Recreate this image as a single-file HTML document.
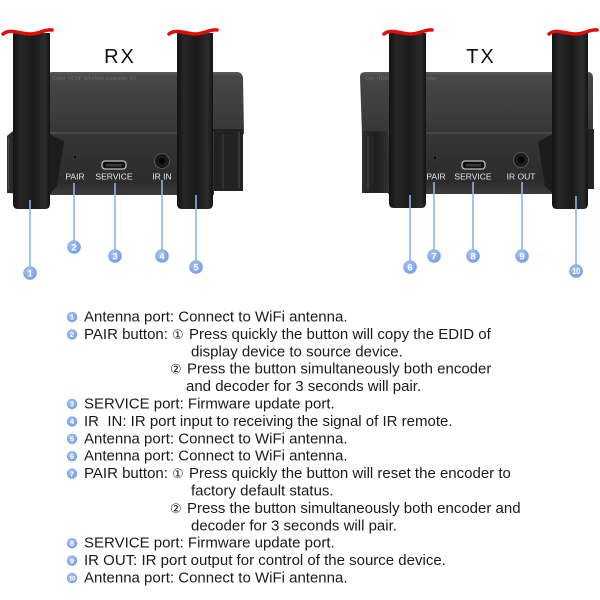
<!DOCTYPE html>
<html><head><meta charset="utf-8">
<style>
html,body{margin:0;padding:0;background:#fff;}
svg{display:block;}
</style></head>
<body>
<svg width="600" height="600" viewBox="0 0 600 600" xmlns="http://www.w3.org/2000/svg" font-family="'Liberation Sans', Arial, 'DejaVu Sans', sans-serif">
<defs>
  <linearGradient id="topf" x1="0" y1="0" x2="0" y2="1">
    <stop offset="0" stop-color="#5a5a5a"/>
    <stop offset="0.07" stop-color="#474747"/>
    <stop offset="0.6" stop-color="#3e3e3e"/>
    <stop offset="1" stop-color="#363636"/>
  </linearGradient>
  <linearGradient id="front" x1="0" y1="0" x2="0" y2="1">
    <stop offset="0" stop-color="#505050"/>
    <stop offset="0.05" stop-color="#353535"/>
    <stop offset="0.8" stop-color="#2c2c2c"/>
    <stop offset="1" stop-color="#3c3c3c"/>
  </linearGradient>
  <linearGradient id="ant" x1="0" y1="0" x2="1" y2="0">
    <stop offset="0" stop-color="#121212"/>
    <stop offset="0.2" stop-color="#272727"/>
    <stop offset="0.55" stop-color="#1a1a1a"/>
    <stop offset="0.85" stop-color="#2c2c2c"/>
    <stop offset="1" stop-color="#141414"/>
  </linearGradient>
  <linearGradient id="side" x1="0" y1="0" x2="1" y2="0">
    <stop offset="0" stop-color="#2e2e2e"/>
    <stop offset="0.5" stop-color="#1f1f1f"/>
    <stop offset="1" stop-color="#333"/>
  </linearGradient>
  <radialGradient id="bub" cx="0.4" cy="0.35" r="0.7">
    <stop offset="0" stop-color="#a9c4f3"/>
    <stop offset="1" stop-color="#6f9ae2"/>
  </radialGradient>
</defs>

<rect width="600" height="600" fill="#fff"/>

<!-- ============ RX DEVICE ============ -->
<path d="M47,77 Q47,72 52,72 L237,72 Q242,72 243,78 L244,134 L45,134 Z" fill="url(#topf)"/>
<text x="52" y="80" font-size="5.5" fill="#6a6a6a">Cable   HDMI Wireless Extender Kit</text>
<path d="M7,136 L13,131 L50,131 L50,195 L7,193 Z" fill="url(#side)"/>
<line x1="8.5" y1="137" x2="8.5" y2="190" stroke="#4a4a4a" stroke-width="1"/>
<rect x="210" y="129" width="33" height="62" fill="#222"/>
<line x1="223" y1="134" x2="223" y2="188" stroke="#3a3a3a" stroke-width="1.2"/>
<line x1="239" y1="132" x2="239" y2="188" stroke="#464646" stroke-width="1.2"/>
<rect x="48" y="132" width="166" height="63" fill="url(#front)"/>
<polygon points="49,134 64,141 57,186 49,195" fill="#1c1c1c"/>
<circle cx="75" cy="157" r="2" fill="#0e0e0e" stroke="#555" stroke-width="0.6"/>
<rect x="102" y="161" width="24" height="8" rx="3" fill="#111" stroke="#bdbdbd" stroke-width="1.3"/>
<rect x="106" y="164" width="16" height="2.5" fill="#3a3a3a"/>
<circle cx="162" cy="161" r="7.5" fill="#1b1b1b" stroke="#555" stroke-width="1"/>
<circle cx="162" cy="161" r="3.2" fill="#050505"/>
<g font-size="8.5" fill="#e6e6e6" text-anchor="middle">
  <text x="75" y="179.5">PAIR</text>
  <text x="114" y="179.5">SERVICE</text>
  <text x="162" y="179.5">IR IN</text>
</g>
<text x="120" y="63" font-size="20" fill="#111" text-anchor="middle" letter-spacing="2">RX</text>

<path d="M13,33 L50,33 L50,204 Q50,209 45,209 L18,209 Q13,209 13,204 Z" fill="url(#ant)"/>
<path d="M3,34 C10,28 20,34 30,34 C40,34 44,29 52,30" fill="none" stroke="#e00d0d" stroke-width="3.5" stroke-linecap="round"/>
<path d="M177,33 L213,33 L213,204 Q213,209 208,209 L182,209 Q177,209 177,204 Z" fill="url(#ant)"/>
<path d="M169,34 C176,28 186,34 195,34 C205,34 209,29 217,30" fill="none" stroke="#e00d0d" stroke-width="3.5" stroke-linecap="round"/>

<!-- ============ TX DEVICE ============ -->
<path d="M360,77 Q360,72 365,72 L588,72 Q593,72 593,78 L593,134 L362,134 Z" fill="url(#topf)"/>
<text x="365" y="80" font-size="5.5" fill="#6a6a6a">Con     HDMI Wireless Extender</text>
<rect x="362" y="131" width="28" height="62" fill="url(#side)"/>
<line x1="368" y1="136" x2="368" y2="190" stroke="#444" stroke-width="1"/>
<rect x="585" y="129" width="9" height="60" fill="#242424"/>
<rect x="388" y="132" width="166" height="62" fill="url(#front)"/>
<polygon points="553,134 538,142 545,186 553,194" fill="#1c1c1c"/>
<circle cx="435" cy="158" r="2" fill="#0e0e0e" stroke="#555" stroke-width="0.6"/>
<rect x="462" y="161" width="23" height="8" rx="3" fill="#111" stroke="#bdbdbd" stroke-width="1.3"/>
<rect x="466" y="164" width="15" height="2.5" fill="#3a3a3a"/>
<circle cx="521" cy="160" r="7.5" fill="#1b1b1b" stroke="#555" stroke-width="1"/>
<circle cx="521" cy="160" r="3.2" fill="#050505"/>
<g font-size="8.5" fill="#e6e6e6" text-anchor="middle">
  <text x="436" y="179.5">PAIR</text>
  <text x="473" y="179.5">SERVICE</text>
  <text x="521" y="179.5">IR OUT</text>
</g>
<text x="481" y="63" font-size="20" fill="#111" text-anchor="middle" letter-spacing="2">TX</text>

<path d="M389,33 L426,33 L426,203 Q426,208 421,208 L394,208 Q389,208 389,203 Z" fill="url(#ant)"/>
<path d="M384,34 C391,28 401,34 410,34 C420,34 425,29 432,30" fill="none" stroke="#e00d0d" stroke-width="3.5" stroke-linecap="round"/>
<path d="M552,33 L588,33 L588,204 Q588,209 583,209 L557,209 Q552,209 552,204 Z" fill="url(#ant)"/>
<path d="M549,34 C556,28 566,34 575,34 C585,34 590,29 597,30" fill="none" stroke="#e00d0d" stroke-width="3.5" stroke-linecap="round"/>

<!-- ============ CALLOUT LINES ============ -->
<g stroke="#8fb3f0" stroke-width="1.6">
  <line x1="30" y1="200" x2="30" y2="268"/>
  <line x1="74" y1="183" x2="74" y2="241"/>
  <line x1="115" y1="183" x2="115" y2="250"/>
  <line x1="162" y1="180" x2="162" y2="250"/>
  <line x1="196" y1="195" x2="196" y2="261"/>
  <line x1="410" y1="195" x2="410" y2="261"/>
  <line x1="434" y1="182" x2="434" y2="250"/>
  <line x1="473" y1="182" x2="473" y2="250"/>
  <line x1="522" y1="182" x2="522" y2="250"/>
  <line x1="576" y1="196" x2="576" y2="265"/>
</g>
<g fill="url(#bub)">
  <circle cx="30" cy="273" r="6.8"/>
  <circle cx="74" cy="247" r="6.8"/>
  <circle cx="115" cy="256" r="6.8"/>
  <circle cx="162" cy="256" r="6.8"/>
  <circle cx="196" cy="267" r="6.8"/>
  <circle cx="410" cy="267" r="6.8"/>
  <circle cx="434" cy="256" r="6.8"/>
  <circle cx="473" cy="256" r="6.8"/>
  <circle cx="522" cy="256" r="6.8"/>
  <circle cx="576" cy="271" r="6.8"/>
</g>
<g fill="#fff" font-size="9.5" font-weight="bold" text-anchor="middle">
  <text x="30" y="276.5">1</text>
  <text x="74" y="250.5">2</text>
  <text x="115" y="259.5">3</text>
  <text x="162" y="259.5">4</text>
  <text x="196" y="270.5">5</text>
  <text x="410" y="270.5">6</text>
  <text x="434" y="259.5">7</text>
  <text x="473" y="259.5">8</text>
  <text x="522" y="259.5">9</text>
  <text x="576" y="274" font-size="8" letter-spacing="-0.5">10</text>
</g>

<!-- ============ LEGEND LIST ============ -->
<g fill="url(#bub)">
  <circle cx="72" cy="317" r="5.2"/>
  <circle cx="72" cy="334.4" r="5.2"/>
  <circle cx="72" cy="404" r="5.2"/>
  <circle cx="72" cy="421.4" r="5.2"/>
  <circle cx="72" cy="438.8" r="5.2"/>
  <circle cx="72" cy="456.2" r="5.2"/>
  <circle cx="72" cy="473.6" r="5.2"/>
  <circle cx="72" cy="543.2" r="5.2"/>
  <circle cx="72" cy="560.6" r="5.2"/>
  <circle cx="72" cy="578" r="5.2"/>
</g>
<g fill="#fff" font-size="7.5" font-weight="bold" text-anchor="middle">
  <text x="72" y="319.7">1</text>
  <text x="72" y="337.1">2</text>
  <text x="72" y="406.7">3</text>
  <text x="72" y="424.1">4</text>
  <text x="72" y="441.5">5</text>
  <text x="72" y="458.9">6</text>
  <text x="72" y="476.3">7</text>
  <text x="72" y="545.9">8</text>
  <text x="72" y="563.3">9</text>
  <text x="72" y="580.5" font-size="6.5" letter-spacing="-0.5">10</text>
</g>

<g fill="#1a1a1a" font-size="15">
  <text x="84" y="321.5">Antenna port: Connect to WiFi antenna.</text>
  <text x="84" y="338.9">PAIR button:</text>
  <text x="172" y="338.9" font-size="13" font-family="'DejaVu Sans', sans-serif">①</text>
  <text x="189" y="338.9">Press quickly the button will copy the EDID of</text>
  <text x="191" y="356.3">display device to source device.</text>
  <text x="170" y="373.7" font-size="13" font-family="'DejaVu Sans', sans-serif">②</text>
  <text x="187" y="373.7">Press the button simultaneously both encoder</text>
  <text x="186" y="391.1">and decoder for 3 seconds will pair.</text>
  <text x="84" y="408.5">SERVICE port: Firmware update port.</text>
  <text x="84" y="425.9">IR&#160; IN: IR port input to receiving the signal of IR remote.</text>
  <text x="84" y="443.3">Antenna port: Connect to WiFi antenna.</text>
  <text x="84" y="460.7">Antenna port: Connect to WiFi antenna.</text>
  <text x="84" y="478.1">PAIR button:</text>
  <text x="172" y="478.1" font-size="13" font-family="'DejaVu Sans', sans-serif">①</text>
  <text x="189" y="478.1">Press quickly the button will reset the encoder to</text>
  <text x="191" y="495.5">factory default status.</text>
  <text x="170" y="512.9" font-size="13" font-family="'DejaVu Sans', sans-serif">②</text>
  <text x="187" y="512.9">Press the button simultaneously both encoder and</text>
  <text x="191" y="530.3">decoder for 3 seconds will pair.</text>
  <text x="84" y="547.7">SERVICE port: Firmware update port.</text>
  <text x="84" y="565.1">IR OUT: IR port output for control of the source device.</text>
  <text x="84" y="582.5">Antenna port: Connect to WiFi antenna.</text>
</g>
</svg>
</body></html>
